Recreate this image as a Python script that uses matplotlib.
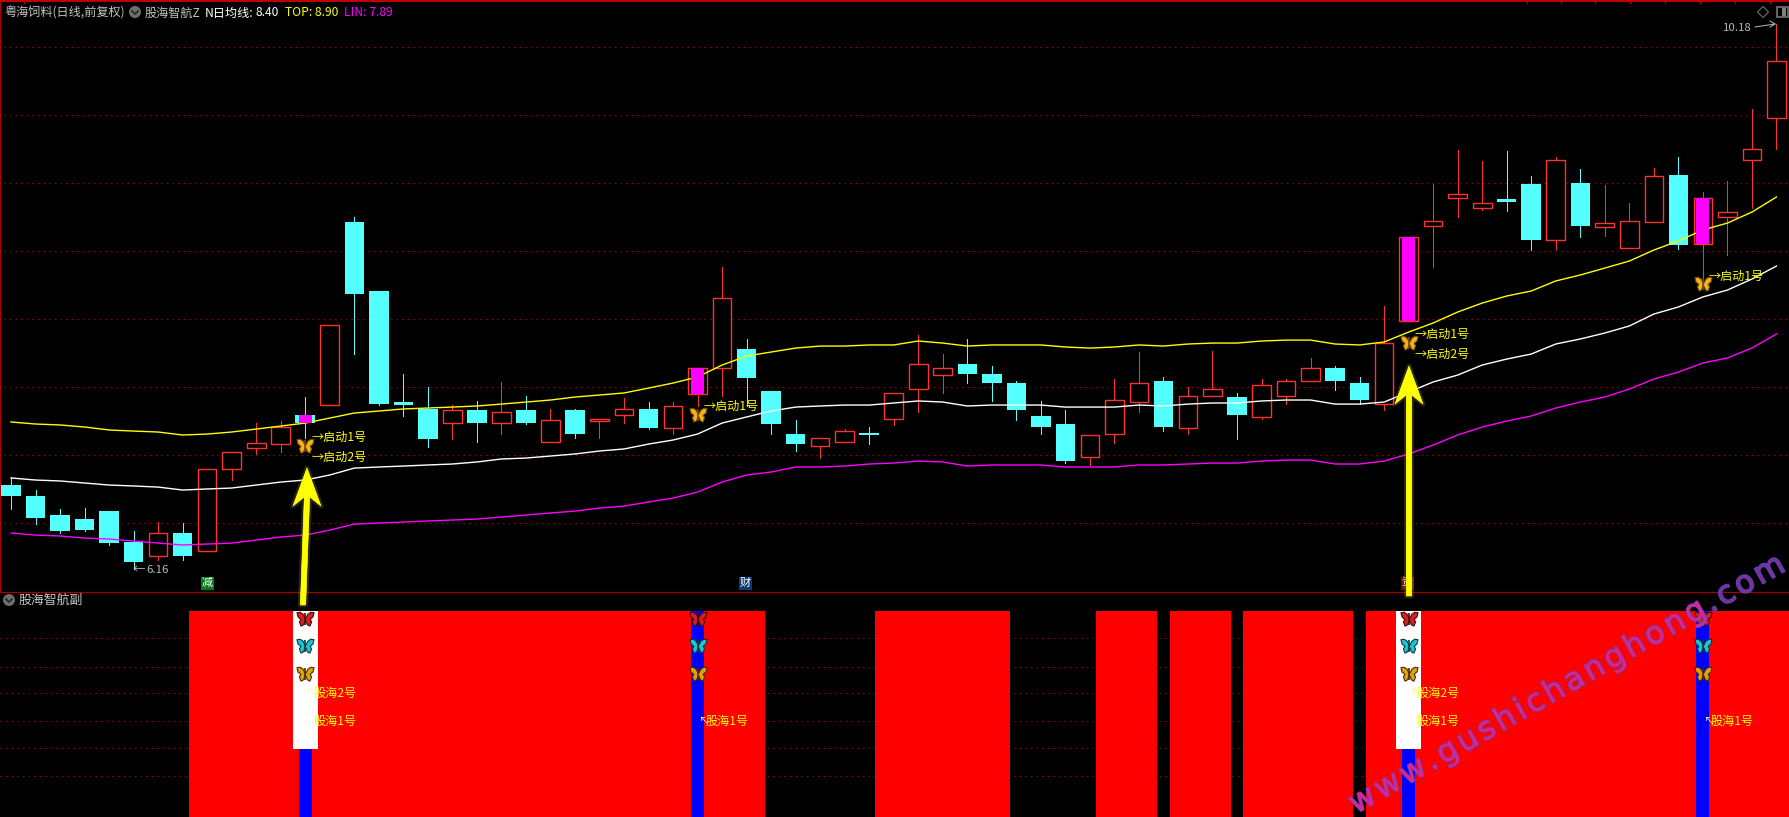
import matplotlib
matplotlib.use("Agg")
import matplotlib.pyplot as plt
import numpy as np
from matplotlib.font_manager import FontProperties
from matplotlib.lines import Line2D
from matplotlib.patches import Circle, Polygon, Rectangle, RegularPolygon
from matplotlib.path import Path
from matplotlib.textpath import text_to_path
from matplotlib.transforms import IdentityTransform
import matplotlib.patheffects as pe

plt.rcParams['font.family'] = ['Noto Sans CJK SC', 'DejaVu Sans']

# ---------- data ----------
highs = [6.84,6.74,6.60,6.61,6.59,6.44,6.51,6.50,6.90,7.02,7.24,7.25,7.43,7.96,8.76,8.21,7.60,7.50,7.37,7.40,
         7.54,7.44,7.34,7.34,7.27,7.42,7.39,7.39,7.64,8.39,7.86,7.47,7.26,7.13,7.19,7.21,7.46,7.89,7.75,7.86,
         7.66,7.55,7.40,7.33,7.15,7.56,7.76,7.58,7.50,7.77,7.46,7.56,7.56,7.72,7.66,7.58,8.10,8.61,9.00,9.25,
         9.17,9.24,9.06,9.20,9.11,8.99,8.86,9.12,9.20,8.94,9.02,9.55,10.18]
lows = [6.60,6.49,6.43,6.44,6.34,6.16,6.23,6.23,6.29,6.82,7.01,7.02,7.13,7.37,7.75,7.37,7.29,7.06,7.12,7.10,
        7.16,7.23,7.10,7.13,7.13,7.24,7.19,7.16,7.36,7.44,7.36,7.16,7.03,6.98,7.10,7.08,7.22,7.32,7.46,7.53,
        7.40,7.26,7.16,6.94,6.93,7.09,7.32,7.18,7.16,7.44,7.12,7.27,7.38,7.55,7.48,7.38,7.33,7.99,8.39,8.76,
        8.81,8.80,8.51,8.52,8.61,8.62,8.53,8.72,8.52,8.31,8.48,8.82,9.26]
body_top = [6.78,6.70,6.56,6.53,6.59,6.36,6.43,6.43,6.90,7.02,7.09,7.21,7.30,7.96,8.72,8.21,7.39,7.34,7.33,7.33,
            7.32,7.33,7.26,7.33,7.27,7.34,7.34,7.36,7.64,8.16,7.78,7.47,7.16,7.13,7.18,7.16,7.46,7.67,7.64,7.67,
            7.60,7.53,7.29,7.23,7.15,7.41,7.53,7.55,7.44,7.49,7.43,7.52,7.55,7.64,7.64,7.53,7.83,8.61,8.73,8.93,
            8.86,8.89,9.00,9.18,9.01,8.71,8.73,9.06,9.07,8.90,8.79,9.26,9.91]
body_bot = [6.70,6.54,6.44,6.45,6.35,6.21,6.26,6.26,6.29,6.90,7.05,7.08,7.24,7.37,8.19,7.38,7.37,7.12,7.24,7.24,
            7.24,7.24,7.10,7.16,7.25,7.30,7.20,7.20,7.45,7.64,7.57,7.23,7.08,7.07,7.10,7.15,7.27,7.49,7.59,7.60,
            7.53,7.33,7.21,6.96,6.99,7.16,7.39,7.21,7.20,7.44,7.30,7.28,7.44,7.55,7.55,7.41,7.38,7.99,8.69,8.90,
            8.82,8.87,8.59,8.59,8.69,8.68,8.53,8.72,8.55,8.56,8.76,9.18,9.49]
falling = [0,1,2,3,4,5,7,12,14,15,16,17,19,21,23,26,30,31,32,35,39,40,41,42,43,47,50,54,55,61,62,64,68]

top_line = [7.245,7.230,7.223,7.208,7.186,7.178,7.171,7.149,7.156,7.171,7.193,7.215,7.237,7.274,7.311,7.326,7.341,7.348,
            7.355,7.363,7.377,7.392,7.407,7.429,7.444,7.459,7.495,7.532,7.577,7.665,7.731,7.761,7.790,7.805,7.805,7.813,7.813,
            7.842,7.827,7.805,7.813,7.813,7.813,7.798,7.790,7.798,7.813,7.805,7.820,7.827,7.827,7.842,7.849,7.849,7.820,7.813,7.835,
            7.908,7.975,8.056,8.122,8.174,8.211,8.285,8.329,8.380,8.432,8.513,8.580,8.661,8.712,8.793,8.904]
mid_line = [6.832,6.817,6.810,6.795,6.780,6.773,6.765,6.743,6.751,6.758,6.780,6.802,6.817,6.854,6.905,6.913,6.920,6.928,
            6.935,6.950,6.972,6.979,6.994,7.009,7.031,7.046,7.082,7.112,7.156,7.237,7.282,7.326,7.355,7.363,7.370,7.370,7.385,
            7.400,7.392,7.363,7.370,7.370,7.370,7.355,7.355,7.355,7.370,7.363,7.377,7.385,7.385,7.400,7.407,7.407,7.377,7.377,7.392,
            7.466,7.540,7.591,7.665,7.709,7.746,7.820,7.857,7.901,7.953,8.041,8.093,8.167,8.218,8.299,8.395]
low_line = [6.426,6.411,6.404,6.389,6.382,6.367,6.352,6.338,6.345,6.352,6.374,6.397,6.411,6.448,6.492,6.500,6.507,6.515,
            6.522,6.529,6.544,6.559,6.574,6.588,6.610,6.625,6.655,6.684,6.728,6.802,6.854,6.876,6.913,6.913,6.920,6.935,6.942,
            6.957,6.950,6.920,6.928,6.928,6.928,6.913,6.913,6.913,6.928,6.928,6.935,6.942,6.942,6.957,6.964,6.964,6.935,6.935,6.957,
            7.009,7.075,7.149,7.208,7.252,7.289,7.348,7.392,7.429,7.488,7.562,7.613,7.680,7.717,7.790,7.894]

price_grid = [10.008,9.507,9.005,8.504,8.004,7.503,7.004,6.502]
signal_days = [12,28,57,69]
signal_price = [7.07,7.30,7.83,8.26]
second_signal_days = [12,57]
red_runs = [(8,30),(36,40),(45,46),(48,49),(51,54),(56,72)]
sub_grid = [86.9,72.8,60.2,46.6,33.5,19.9]
white_floor = 33
sub_levels = [96.1,83.0,69.4]
sub_colors = ['#d42020','#20c4d0','#e0a010']
sub_edges = ['#4a0808','#063a40','#4a2c00']
label1_level, label2_level = 46.6, 60.2

# ---------- layout ----------
W, H = 1789, 817
fig = plt.figure(figsize=(W/100, H/100), dpi=100, facecolor='black')
SEP = 591.5
X0, DX = 11.0, 24.52
SUB_PX = 2.06
xlim = ((0-X0)/DX, (W-X0)/DX)
ID = IdentityTransform()

def pxy(y):
    return H - y

ax = fig.add_axes([0, (H-SEP)/H, 1, SEP/H], facecolor='black')
ax.set_xlim(*xlim)
ax.set_ylim(10.18-(SEP-24)/135.6, 10.18+24/135.6)
sub = fig.add_axes([0, 0, 1, (H-SEP)/H], facecolor='black')
sub.set_xlim(*xlim)
sub.set_ylim(0, (817-SEP)/SUB_PX)
for a in (ax, sub):
    a.set_xticks([]); a.set_yticks([])
    for s in a.spines.values():
        s.set_visible(False)

GRID = '#a80000'
for g in price_grid:
    ax.axhline(g, color=GRID, lw=0.72, ls=(0, (1.4, 4.2)), zorder=0.5, xmin=0.002)
for g in sub_grid:
    sub.axhline(g, color=GRID, lw=0.72, ls=(0, (1.4, 4.2)), zorder=0.5)

# ---------- candles ----------
UP, DOWN, MAG = '#ff3232', '#54ffff', '#ff00ff'
idx = np.arange(len(highs))
hi, lo, bt, bb = map(np.array, (highs, lows, body_top, body_bot))
is_down = np.isin(idx, falling)
BW = 18.6/DX
wick_colors = [DOWN if d else UP for d in is_down]
ax.vlines(idx, lo, hi, colors=wick_colors, lw=0.72, zorder=1, antialiased=False)
ax.bar(idx[~is_down], (bt-bb)[~is_down], bottom=bb[~is_down], width=BW, facecolor='black',
       edgecolor=UP, linewidth=1.0, zorder=1.5)
ax.bar(idx[is_down], np.maximum((bt-bb)[is_down], 0.012), bottom=bb[is_down], width=BW+0.9/DX,
       facecolor=DOWN, edgecolor='none', zorder=1.5)

for line, col in ((top_line, '#ffff00'), (mid_line, '#ffffff'), (low_line, '#ff00ff')):
    ax.plot(idx, line, color=col, lw=1.0, zorder=2, solid_joinstyle='miter')

ax.bar(signal_days, bt[signal_days]-bb[signal_days], bottom=bb[signal_days], width=13/DX,
       facecolor=MAG, edgecolor='none', zorder=3)

# ---------- butterflies ----------
right = [(0.04,0.15),(0.28,0.62),(0.62,0.85),(1.0,0.80),(0.88,0.30),(0.55,0.02),(0.72,-0.28),
         (0.52,-0.78),(0.22,-0.62),(0.04,-0.15)]
verts = right + [(-x, y) for x, y in right[::-1]] + [right[0]]
BF = Path(verts, closed=True)

def butterflies(a, xs, ys, color, edge, zo=6):
    a.scatter(xs, ys, marker=BF, s=150, facecolor=color, edgecolor=edge, linewidth=0.8, zorder=zo)
    a.scatter(xs, ys, marker='|', s=70, color=edge, linewidth=1.2, zorder=zo+1)

butterflies(ax, signal_days, signal_price, '#f2b41c', '#7a4a00')

FS = 8.7
def sig_label(a, x, y, s, dx, dy, color='#ffff00', size=FS):
    a.annotate(s, xy=(x, y), xytext=(dx, dy), textcoords='offset pixels', color=color,
               fontsize=size, ha='left', va='center', zorder=7, annotation_clip=False)

for d, p in zip(signal_days, signal_price):
    sig_label(ax, d, p, '→启动1号', 6, 8)
for d in second_signal_days:
    p = signal_price[signal_days.index(d)]
    sig_label(ax, d, p, '→启动2号', 6, -12)

# ---------- lower panel ----------
red_days = [d for a_, b_ in red_runs for d in range(a_, b_+1)]
sub.bar(red_days, [100]*len(red_days), width=36.5/DX, color='#ff0000', edgecolor='none', zorder=1)
sub.bar(signal_days, [100]*len(signal_days), width=13/DX, color='#0000ff', edgecolor='none', zorder=2)
sub.bar(second_signal_days, [100-white_floor]*len(second_signal_days), bottom=white_floor, width=25/DX,
        color='#ffffff', edgecolor='none', zorder=3)
for lev, col, edge in zip(sub_levels, sub_colors, sub_edges):
    butterflies(sub, signal_days, [lev]*len(signal_days), col, edge)
for d in signal_days:
    sig_label(sub, d, label1_level, '↖', 0, 0, color='#ffffc8' if d not in second_signal_days else '#ffffff', size=8)
    sig_label(sub, d, label1_level, '股海1号', 8, 0)
for d in second_signal_days:
    sig_label(sub, d, label2_level, '↖', 0, 0, color='#ffffa0', size=8)
    sig_label(sub, d, label2_level, '股海2号', 8, 0)

# ---------- frame ----------
BORDER = '#c00000'
fig.add_artist(Rectangle((0, pxy(2)), W, 2, transform=ID, facecolor=BORDER, edgecolor='none', zorder=5))
fig.add_artist(Rectangle((0, pxy(SEP)), 1.3, SEP, transform=ID, facecolor='#b00000', edgecolor='none', zorder=5))
fig.add_artist(Line2D([0, W], [pxy(SEP)]*2, transform=ID, color='#a80000', lw=0.9, zorder=5))
for tx in [24, 1527, 1561, 1595, 1630, 1665, 1700, 1735, 1770]:
    fig.add_artist(Line2D([tx, tx], [pxy(3), pxy(0)], transform=ID, color=BORDER, lw=0.7, zorder=5))

# ---------- header text ----------
def T(x, y, s, color='#c4c4c4', size=FS, ha='left', **kw):
    return fig.text(x, pxy(y), s, transform=ID, color=color, fontsize=size, ha=ha, va='center', zorder=8, **kw)

T(4, 13, '粤海饲料(日线,前复权)')
T(145, 13, '股海智航Z')
T(205, 13, 'N日均线:', color='#ffffff')
T(256, 13, '8.40', color='#ffffff')
T(285, 13, 'TOP: 8.90', color='#ffff00')
T(344, 13, 'LIN: 7.89', color='#ff00ff')
T(19, 600, '股海智航副', size=9.3)

def chevron(x, y):
    fig.add_artist(Circle((x, pxy(y)), 6, transform=ID, facecolor='#6e6e6e', edgecolor='none', zorder=8))
    fig.add_artist(Line2D([x-3, x, x+3], [pxy(y-1), pxy(y+2), pxy(y-1)], transform=ID, color='#202020', lw=1.1, zorder=9))
chevron(135, 12)
chevron(9, 600)

fig.add_artist(RegularPolygon((1763, pxy(12)), 4, radius=5.5, transform=ID, facecolor='none', edgecolor='#707070', lw=0.8, zorder=8))
fig.add_artist(Rectangle((1776.5, pxy(17)), 11, 10, transform=ID, facecolor='none', edgecolor='#808080', lw=1.1, zorder=8))
fig.add_artist(Rectangle((1782, pxy(16)), 4, 8, transform=ID, facecolor='#808080', edgecolor='none', zorder=8))

# extreme labels
T(146, 570, '6.16', color='#b8b8b8', size=8.2)
T(133, 569, '←', color='#b8b8b8', size=9)
T(1723, 28, '10.18', color='#b8b8b8', size=8.2)
fig.add_artist(Line2D([1755, 1775, 1770], [pxy(27), pxy(24), pxy(21)], transform=ID, color='#b8b8b8', lw=0.7, zorder=8))
fig.add_artist(Line2D([1770, 1775], [pxy(27), pxy(24)], transform=ID, color='#b8b8b8', lw=0.7, zorder=8))

# event tags
for x0, s, col in ((201, '减', '#007a1a'), (739, '财', '#0a3d78'), (1401, '资', '#701010')):
    fig.add_artist(Rectangle((x0, pxy(590)), 13, 13, transform=ID, facecolor=col, edgecolor='none', zorder=6))
    T(x0+6.5, 583, s, color='#ffffff', size=8, ha='center')

# big arrows
def big_arrow(xb, yb, xt, yt, half, ybase, ynotch):
    pts = [(xb-2.7, yb), (xt-2.7, ynotch), (xt-half, ybase), (xt, yt), (xt+half, ybase), (xt+2.7, ynotch), (xb+2.7, yb)]
    poly = Polygon([(x, pxy(y)) for x, y in pts], closed=True, transform=ID, facecolor='#ffff00', edgecolor='#ffff00',
                   lw=0.4, zorder=12, joinstyle='round')
    poly.set_path_effects([pe.Stroke(linewidth=3.5, foreground=(0.55, 0.55, 0.25, 0.28), joinstyle='round'), pe.Normal()])
    fig.add_artist(poly)

big_arrow(303, 605, 307, 468, 14, 506, 497)
big_arrow(1409, 596, 1409, 366, 14, 404, 395)

# watermark, spaced letter by letter along its baseline
wm_text = 'www.gushichanghong.com'
wm_prop = FontProperties(family='DejaVu Sans', size=22.5)
sx, sy, ex, ey = 1356.0, 814.0, 1787.0, 570.0
length = np.hypot(ex-sx, ey-sy)
ang = np.degrees(np.arctan2(sy-ey, ex-sx))
adv = []
for ch in wm_text:
    adv.append(text_to_path.get_text_width_height_descent(ch, wm_prop, False)[0] * 100/72)
gap = (length - sum(adv)) / (len(wm_text) - 1)
pos = 0.0
ux, uy = (ex-sx)/length, (ey-sy)/length
for ch, a_ in zip(wm_text, adv):
    by = sy + uy*pos
    fill = '#7a2f9c' if by < 618 else '#e6208c'
    t = fig.text(sx + ux*pos, pxy(by), ch, transform=ID, fontproperties=wm_prop, rotation=ang,
                 rotation_mode='anchor', ha='left', va='baseline', color=fill, zorder=20)
    t.set_path_effects([pe.withStroke(linewidth=1.2, foreground='#5a48b8')])
    pos += a_ + gap

fig.savefig('out.png', dpi=100, facecolor='black')
